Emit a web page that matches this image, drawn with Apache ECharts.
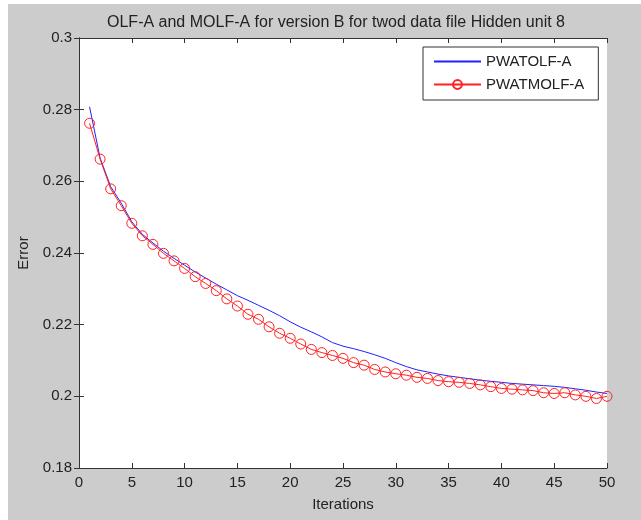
<!DOCTYPE html>
<html><head><meta charset="utf-8">
<script src="https://cdn.jsdelivr.net/npm/echarts@6/dist/echarts.min.js"></script>
<style>
html,body{margin:0;padding:0;background:#fff;width:641px;height:520px;overflow:hidden;}
#c{position:absolute;left:8px;top:4px;width:633px;height:516px;background:#cccccc;}
</style></head>
<body><div id="c"></div>
<script>
const titleText = 'OLF-A and MOLF-A for version B for twod data file Hidden unit 8';
const xName = 'Iterations';
const yName = 'Error';
const iterations = [1,2,3,4,5,6,7,8,9,10,11,12,13,14,15,16,17,18,19,20,21,22,23,24,25,26,27,28,29,30,31,32,33,34,35,36,37,38,39,40,41,42,43,44,45,46,47,48,49,50];
const pwatolfA = [0.2808,0.2665,0.2585,0.2539,0.2487,0.2452,0.2428,0.2405,0.2385,0.2366,
  0.2347,0.2330,0.2313,0.2297,0.2281,0.2268,0.2254,0.2240,0.2225,0.2208,
  0.2193,0.2180,0.2166,0.2150,0.2140,0.2133,0.2125,0.2116,0.2106,0.2094,
  0.2083,0.2074,0.2068,0.2062,0.2057,0.2053,0.2049,0.2045,0.2042,0.2039,
  0.2036,0.2034,0.2032,0.2030,0.2028,0.2025,0.2021,0.2017,0.2012,0.2008];
const pwatmolfA = [0.2762,0.2662,0.2579,0.2532,0.2483,0.2448,0.2424,0.2399,0.2378,0.2357,
  0.2334,0.2315,0.2295,0.2272,0.2252,0.2229,0.2215,0.2194,0.2176,0.2162,
  0.2146,0.2131,0.2122,0.2114,0.2106,0.2094,0.2087,0.2075,0.2068,0.2063,
  0.2059,0.2053,0.2050,0.2044,0.2041,0.2039,0.2036,0.2032,0.2027,0.2022,
  0.2020,0.2018,0.2016,0.2010,0.2008,0.2010,0.2004,0.2000,0.1994,0.2000];
const seriesNames = ['PWATOLF-A','PWATMOLF-A'];

const font = 'Liberation Sans, Arial, sans-serif';
const axisColor = '#333333';
const textColor = '#222222';
const chart = echarts.init(document.getElementById('c'), null, {renderer:'canvas'});
const baseAxisLine = {show:true, lineStyle:{color:axisColor, width:1}};
const ticks = {show:true, inside:true, length:5, lineStyle:{color:axisColor}};
chart.setOption({
  animation:false,
  backgroundColor:'#cccccc',
  title:{text:titleText, left:323, top:6, textAlign:'center',
    textStyle:{fontFamily:font, fontSize:16, fontWeight:'normal', color:textColor}},
  legend:{orient:'vertical', left:415, top:43, width:177,
    backgroundColor:'#ffffff', borderColor:axisColor, borderWidth:1,
    padding:[7,14,8,10], itemGap:8, itemWidth:47, itemHeight:11,
    textStyle:{fontFamily:font, fontSize:15, color:textColor},
    data:[{name:seriesNames[0], itemStyle:{opacity:0}}, {name:seriesNames[1]}]},
  grid:{left:70, top:34, width:529, height:430, show:true, backgroundColor:'#ffffff', borderWidth:0},
  xAxis:[{type:'value', min:0, max:50, interval:5, position:'bottom',
      name:xName, nameLocation:'middle', nameGap:29,
      nameTextStyle:{fontFamily:font, fontSize:15, color:textColor},
      axisLine:baseAxisLine, axisTick:ticks, splitLine:{show:false},
      axisLabel:{fontFamily:font, fontSize:15, color:textColor, margin:7}},
    {type:'value', min:0, max:50, interval:5, position:'top',
      axisLine:baseAxisLine, axisTick:ticks, splitLine:{show:false}, axisLabel:{show:false}}],
  yAxis:[{type:'value', min:0.18, max:0.3, interval:0.02, position:'left',
      name:yName, nameLocation:'middle', nameGap:48, nameRotate:90,
      nameTextStyle:{fontFamily:font, fontSize:15, color:textColor},
      axisLine:baseAxisLine, axisTick:ticks, splitLine:{show:false},
      axisLabel:{fontFamily:font, fontSize:15, color:textColor, margin:7,
        formatter:v=>String(+v.toFixed(2))}},
    {type:'value', min:0.18, max:0.3, interval:0.02, position:'right',
      axisLine:baseAxisLine, axisTick:ticks, splitLine:{show:false}, axisLabel:{show:false}}],
  series:[
    {name:seriesNames[0], type:'line', data:iterations.map((x,i)=>[x,pwatolfA[i]]),
      symbol:'none', showSymbol:false, lineStyle:{color:'#2020ff', width:1}, itemStyle:{color:'#2020ff'}},
    {name:seriesNames[1], type:'line', data:iterations.map((x,i)=>[x,pwatmolfA[i]]),
      symbol:'circle', symbolSize:10, showAllSymbol:true, lineStyle:{color:'#ff2020', width:1},
      itemStyle:{color:'rgba(255,255,255,0)', borderColor:'#ff2020', borderWidth:1}}
  ]
});
</script></body></html>
